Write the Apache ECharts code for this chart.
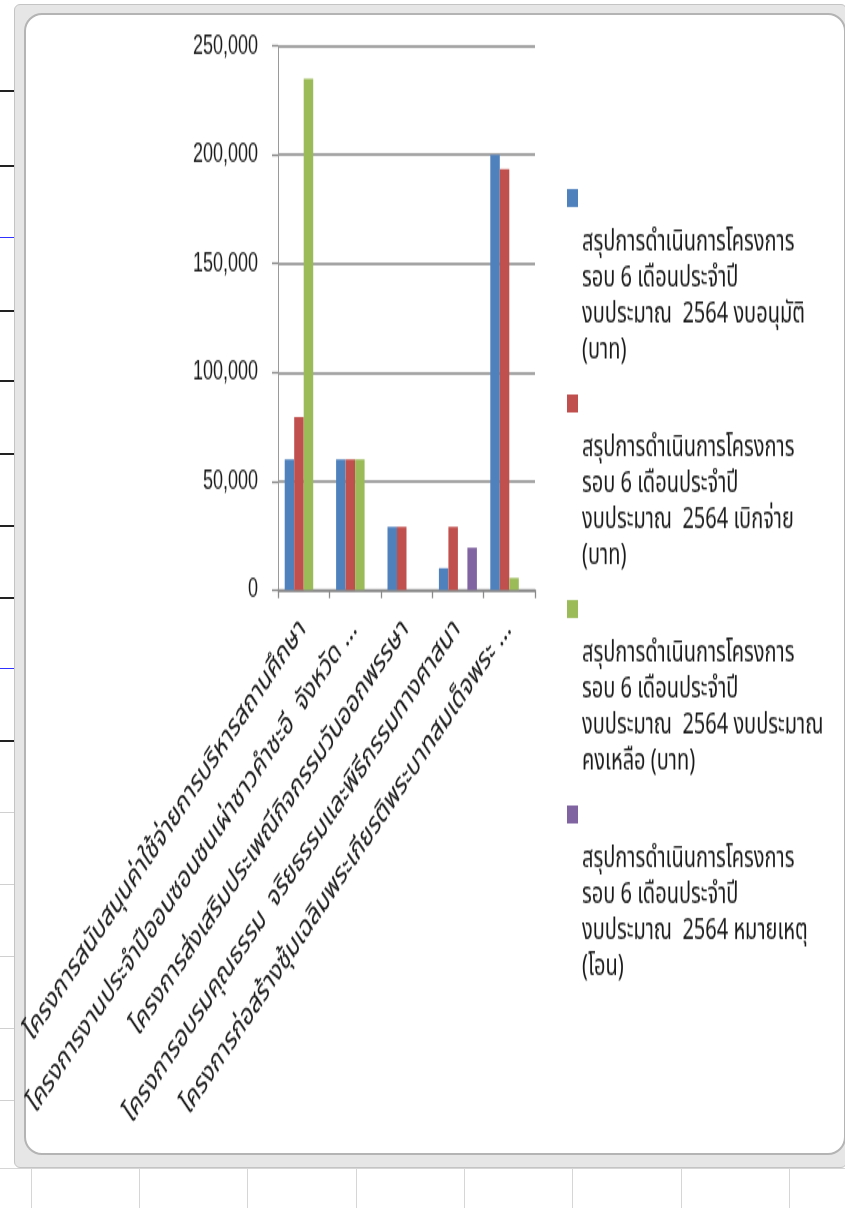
<!DOCTYPE html>
<html>
<head>
<meta charset="utf-8">
<script src="https://cdn.jsdelivr.net/npm/echarts@6/dist/echarts.min.js"></script>
<style>
  html, body { margin:0; padding:0; width:845px; height:1208px; overflow:hidden; background:#ffffff; }
  .deco { position:absolute; }
  #band { left:14px; top:4px; width:831px; height:1162px; background:#e6e6e6; border:1px solid #c4c4c4; border-radius:6px; }
  #frame { left:24px; top:13px; width:818px; height:1138px; background:#ffffff; border:2px solid #b4b4b4; border-radius:18px; }
  #chart { position:absolute; left:0; top:0; width:845px; height:806px; transform:scaleY(1.5); transform-origin:0 0; }
</style>
</head>
<body>
<div id="bg"></div>
<div id="band" class="deco"></div>
<div id="frame" class="deco"></div>
<div id="chart"></div>
<script>
// spreadsheet background lines (decoration only)
(function(){
  var bg = document.getElementById('bg');
  var hl = [90,165,237,310,380,453,525,597,668,740,812,884,956,1028,1100];
  hl.forEach(function(y){
    var d = document.createElement('div');
    d.className='deco';
    var blue = (y===237||y===668);
    var dark = (y<=740 && !blue);
    d.style.cssText='left:0;top:'+y+'px;width:14px;height:'+(dark?2:1)+'px;background:'+(blue?'#3030ff':(dark?'#222':'#d0d0d0'));
    bg.appendChild(d);
  });
  var vl = [31,139,247,356,464,572,681,789];
  vl.forEach(function(x){
    var d = document.createElement('div');
    d.className='deco';
    d.style.cssText='left:'+x+'px;top:1168px;width:1px;height:40px;background:#d6d6d6';
    bg.appendChild(d);
  });
  var h = document.createElement('div');
  h.className='deco';
  h.style.cssText='left:0;top:1168px;width:845px;height:1px;background:#d6d6d6';
  bg.appendChild(h);
})();

var categories = [
  'โครงการสนับสนุนค่าใช้จ่ายการบริหารสถานศึกษา',
  'โครงการงานประจำปีออนซอนชนเผ่าชาวคำชะอี  จังหวัด …',
  'โครงการส่งเสริมประเพณีกิจกรรมวันออกพรรษา',
  'โครงการอบรมคุณธรรม  จริยธรรมและพิธีกรรมทางศาสนา',
  'โครงการก่อสร้างซุ้มเฉลิมพระเกียรติพระบาทสมเด็จพระ …'
];
var seriesNames = [
  'สรุปการดำเนินการโครงการ รอบ 6 เดือนประจำปี งบประมาณ 2564 งบอนุมัติ (บาท)',
  'สรุปการดำเนินการโครงการ รอบ 6 เดือนประจำปี งบประมาณ 2564 เบิกจ่าย (บาท)',
  'สรุปการดำเนินการโครงการ รอบ 6 เดือนประจำปี งบประมาณ 2564 งบประมาณคงเหลือ (บาท)',
  'สรุปการดำเนินการโครงการ รอบ 6 เดือนประจำปี งบประมาณ 2564 หมายเหตุ (โอน)'
];
var legendLines = [
  ['สรุปการดำเนินการโครงการ','รอบ 6 เดือนประจำปี','งบประมาณ  2564 งบอนุมัติ','(บาท)'],
  ['สรุปการดำเนินการโครงการ','รอบ 6 เดือนประจำปี','งบประมาณ  2564 เบิกจ่าย','(บาท)'],
  ['สรุปการดำเนินการโครงการ','รอบ 6 เดือนประจำปี','งบประมาณ  2564 งบประมาณ','คงเหลือ (บาท)'],
  ['สรุปการดำเนินการโครงการ','รอบ 6 เดือนประจำปี','งบประมาณ  2564 หมายเหตุ','(โอน)']
];
var approved  = [60000, 60000, 29000, 10000, 200000];
var spent     = [79500, 60000, 29000, 29000, 193400];
var remaining = [235000, 60000, 0, 0, 5500];
var transfer  = [0, 0, 0, 19400, 0];
var yTicks = [0, 50000, 100000, 150000, 200000, 250000];

var colors = ['#4F81BD', '#C0504D', '#9BBB59', '#8064A2'];
var FONT = 'Tahoma, "Noto Sans Thai", "Noto Sans Thai UI", Loma, Garuda, "Liberation Sans", "Noto Sans", sans-serif';
var valuesList = [approved, spent, remaining, transfer];

var rich = { t: { fontSize: 20, lineHeight: 24, color: '#1a1a1a', fontFamily: FONT, padding: [0,0,0,15] } };
colors.forEach(function(c, i){
  rich['sq' + i] = { width: 11, height: 12, backgroundColor: c, lineHeight: 38 };
});

var chart = echarts.init(document.getElementById('chart'), null, { renderer: 'canvas' });
chart.setOption({
  animation: false,
  color: colors,
  textStyle: { fontFamily: FONT },
  grid: { left: 278, top: 30.7, width: 257, height: 362.6, containLabel: false },
  legend: {
    orient: 'vertical',
    left: 561,
    top: 126,
    padding: 0,
    itemGap: 18,
    icon: 'none',
    itemWidth: 1,
    itemHeight: 1,
    selectedMode: false,
    data: seriesNames,
    formatter: function(name){
      var i = seriesNames.indexOf(name);
      return '{sq' + i + '|}\n' + legendLines[i].map(function(l){ return '{t|' + l + '}'; }).join('\n');
    },
    textStyle: { rich: rich, fontFamily: FONT }
  },
  xAxis: {
    type: 'category',
    data: categories,
    axisLine: { lineStyle: { color: '#8a8a8a', width: 1.3 } },
    axisTick: { show: true, length: 5.5, lineStyle: { color: '#8a8a8a', width: 1.3 } },
    axisLabel: {
      rotate: 45,
      interval: 0,
      margin: 24,
      fontSize: 20.5,
      color: '#1a1a1a',
      fontFamily: FONT
    }
  },
  yAxis: {
    type: 'value',
    min: yTicks[0],
    max: yTicks[yTicks.length - 1],
    interval: 50000,
    axisLine: { show: true, lineStyle: { color: '#9a9a9a', width: 1 } },
    axisTick: { show: true, length: 6, lineStyle: { color: '#8a8a8a', width: 1.3 } },
    splitLine: { lineStyle: { color: '#868686', width: 1.5 } },
    axisLabel: {
      margin: 20,
      fontSize: 18,
      color: '#1a1a1a',
      fontFamily: '"Liberation Sans", Arial, sans-serif',
      formatter: function(v){ return v.toLocaleString('en-US'); }
    }
  },
  series: seriesNames.map(function(n, i){
    return {
      name: n,
      type: 'bar',
      data: valuesList[i],
      barWidth: 9.5,
      barGap: '0%',
      itemStyle: { color: colors[i] }
    };
  })
});
</script>
</body>
</html>
